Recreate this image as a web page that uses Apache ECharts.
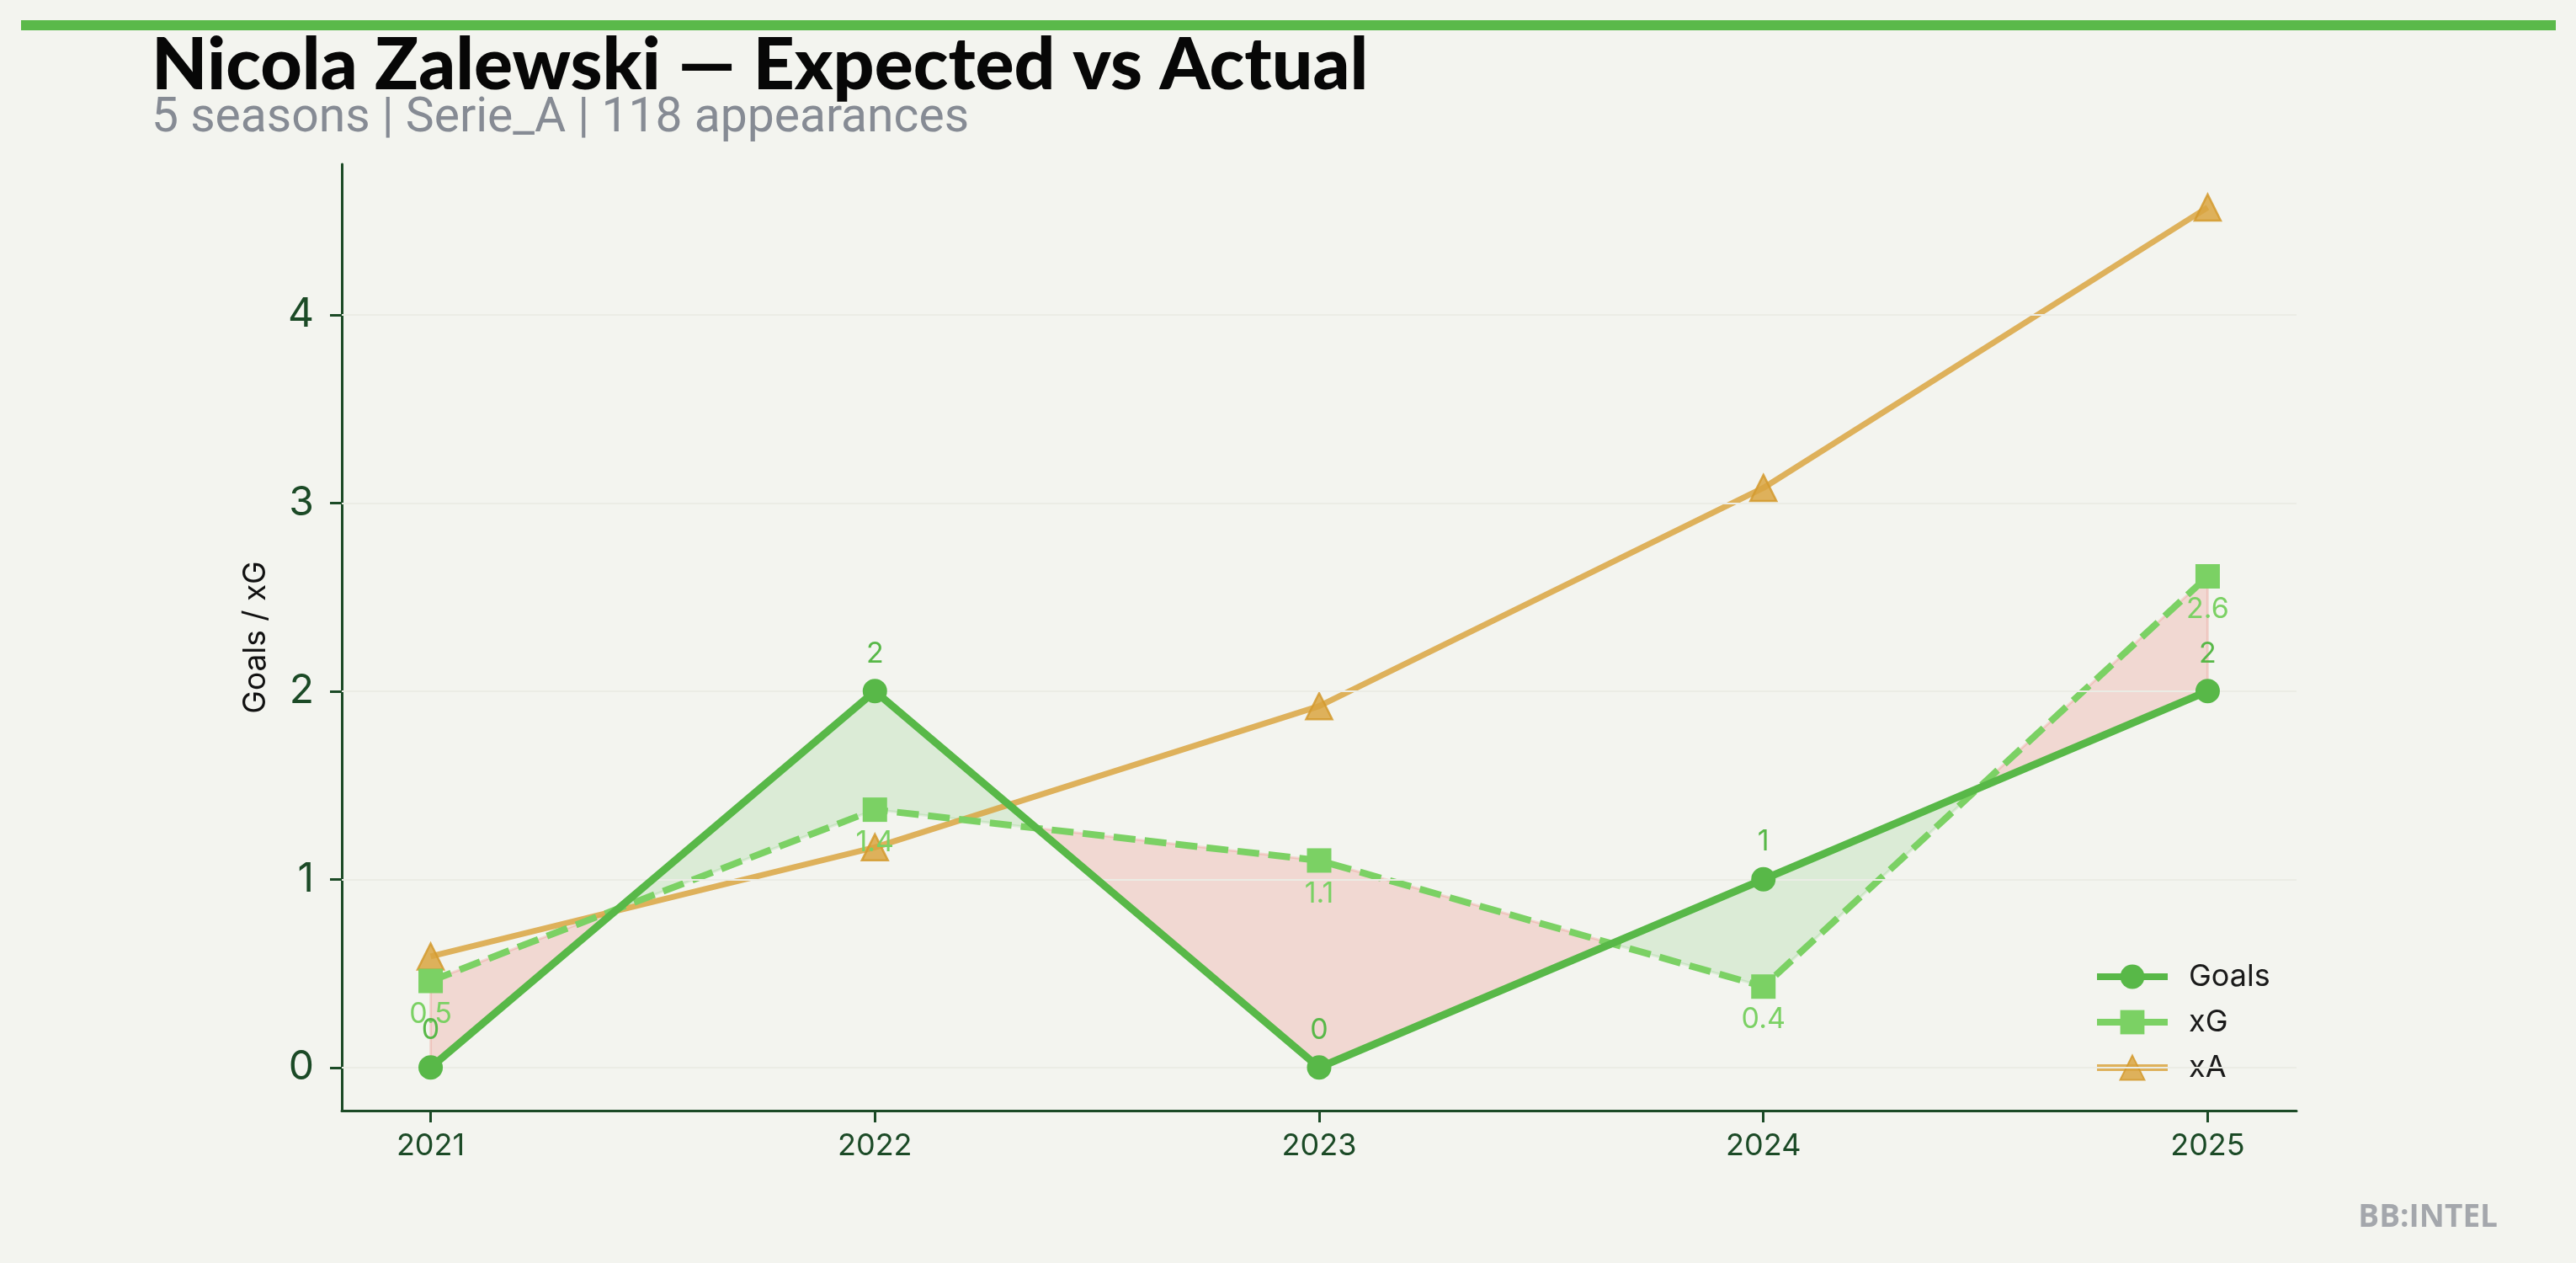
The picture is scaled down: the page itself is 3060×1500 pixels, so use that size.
<!DOCTYPE html>
<html>
<head>
<meta charset="utf-8">
<script src="https://cdn.jsdelivr.net/npm/echarts@6/dist/echarts.min.js"></script>
<style>
html,body{margin:0;padding:0;background:#f3f4ef;}
#c{width:3060px;height:1500px;}
</style>
</head>
<body>
<div id="c"></div>
<script>
const years = [2021, 2022, 2023, 2024, 2025];
const goals = [0, 2, 0, 1, 2];
const xg = [0.46, 1.37, 1.10, 0.43, 2.61];
const xa = [0.59, 1.17, 1.92, 3.08, 4.57];
const yTicks = [0, 1, 2, 3, 4];
const titleText = 'Nicola Zalewski — Expected vs Actual';
const subtitleText = '5 seasons | Serie_A | 118 appearances';

const cGoals = '#58b848';
const cXg = '#7bd164';
const cXa = '#d9a441';
const axisCol = '#1b4a26';
const fillPos = 'rgba(88,185,72,0.15)';
const fillNeg = 'rgba(231,76,60,0.16)';

const fmt = p => String(Number(p.value[1].toFixed(1)));

// fill between Goals and xG, one polygon per contiguous region
function renderFill(params, api) {
  const n = years.length;
  const regions = [];
  let top = [api.coord([years[0], goals[0]])];
  let bot = [api.coord([years[0], xg[0]])];
  let sign = goals[0] - xg[0];
  for (let i = 0; i < n - 1; i++) {
    const d0 = goals[i] - xg[i];
    const d1 = goals[i + 1] - xg[i + 1];
    const G1 = api.coord([years[i + 1], goals[i + 1]]);
    const X1 = api.coord([years[i + 1], xg[i + 1]]);
    if (d0 * d1 < 0) {
      const t = d0 / (d0 - d1);
      const C = api.coord([years[i] + t * (years[i + 1] - years[i]), goals[i] + t * (goals[i + 1] - goals[i])]);
      top.push(C);
      regions.push({ pts: top.concat(bot.slice().reverse()), sign: d0 });
      top = [C, G1];
      bot = [X1];
      sign = d1;
    } else {
      top.push(G1);
      bot.push(X1);
      if (sign === 0) sign = d1;
    }
  }
  regions.push({ pts: top.concat(bot.slice().reverse()), sign: sign });
  return {
    type: 'group',
    children: regions.map(r => ({
      type: 'polygon',
      shape: { points: r.pts },
      style: { fill: r.sign >= 0 ? fillPos : fillNeg, stroke: r.sign >= 0 ? fillPos : fillNeg, lineWidth: 3 }
    }))
  };
}

const chart = echarts.init(document.getElementById('c'));
chart.setOption({
  backgroundColor: '#f3f4ef',
  animation: false,
  graphic: [
    { type: 'rect', shape: { x: 25, y: 24, width: 3011, height: 12 }, style: { fill: '#5ab94a' } },
    { type: 'text', left: 180, top: 35, style: { text: titleText, font: '900 86px Lato', fill: '#070707' } },
    { type: 'text', left: 180, top: 113, style: { text: subtitleText, font: '57px Roboto', fill: '#868b94' } },
    { type: 'text', right: 93, top: 1428, style: { text: 'BB:INTEL', font: 'bold 37px "Open Sans"', fill: '#a4a7ac' } }
  ],
  grid: { left: 406, right: 332, top: 195, bottom: 181, containLabel: false },
  legend: {
    orient: 'vertical',
    left: 2487,
    top: 1142,
    itemWidth: 84,
    itemHeight: 36,
    itemGap: 18,
    padding: 0,
    data: ['Goals', 'xG', 'xA'],
    lineStyle: { type: 'solid', width: 8 },
    textStyle: { fontSize: 36, color: '#1a1a1a', fontFamily: 'Inter', padding: [0, 0, 0, 20] }
  },
  xAxis: {
    type: 'value',
    min: 2020.8,
    max: 2025.2,
    splitLine: { show: false },
    axisLine: { onZero: false, lineStyle: { color: axisCol, width: 3 } },
    axisTick: { show: true, length: 14, lineStyle: { color: axisCol, width: 3 }, customValues: years },
    axisLabel: { customValues: years, fontSize: 36, color: axisCol, fontFamily: 'Inter', margin: 24, formatter: v => String(v) }
  },
  yAxis: {
    type: 'value',
    min: -0.229,
    max: 4.80,
    name: 'Goals / xG',
    nameLocation: 'middle',
    nameGap: 84,
    nameTextStyle: { fontSize: 37, color: '#111', fontFamily: 'Inter' },
    splitLine: { show: false },
    axisLine: { show: true, onZero: false, lineStyle: { color: axisCol, width: 3 } },
    axisTick: { show: true, length: 14, lineStyle: { color: axisCol, width: 3 }, customValues: yTicks },
    axisLabel: { customValues: yTicks, fontSize: 48, color: axisCol, fontFamily: 'Inter', margin: 33 }
  },
  series: [
    {
      type: 'custom',
      name: 'fill',
      silent: true,
      z: 1,
      clip: false,
      data: [[years[0], 0]],
      renderItem: renderFill,
      markLine: {
        silent: true,
        symbol: 'none',
        label: { show: false },
        lineStyle: { color: '#ebece5', width: 2, type: 'solid' },
        data: yTicks.map(v => ({ yAxis: v }))
      }
    },
    {
      name: 'xA',
      type: 'line',
      z: 3,
      data: years.map((y, i) => [y, xa[i]]),
      symbol: 'triangle',
      symbolSize: 31,
      lineStyle: { color: cXa, width: 7, opacity: 0.85 },
      itemStyle: { color: cXa, opacity: 0.85, borderColor: '#d49a2e', borderWidth: 2.5 }
    },
    {
      name: 'xG',
      type: 'line',
      z: 4,
      data: years.map((y, i) => [y, xg[i]]),
      symbol: 'rect',
      symbolSize: 29,
      lineStyle: { color: cXg, width: 8, type: [26, 11] },
      itemStyle: { color: cXg },
      label: { show: true, position: 'bottom', distance: 8, fontSize: 34, color: cXg, fontFamily: 'Inter', formatter: fmt }
    },
    {
      name: 'Goals',
      type: 'line',
      z: 5,
      data: years.map((y, i) => [y, goals[i]]),
      symbol: 'circle',
      symbolSize: 29,
      lineStyle: { color: cGoals, width: 9 },
      itemStyle: { color: cGoals },
      label: { show: true, position: 'top', distance: 13, fontSize: 34, color: cGoals, fontFamily: 'Inter', formatter: fmt }
    }
  ]
});
</script>
</body>
</html>
